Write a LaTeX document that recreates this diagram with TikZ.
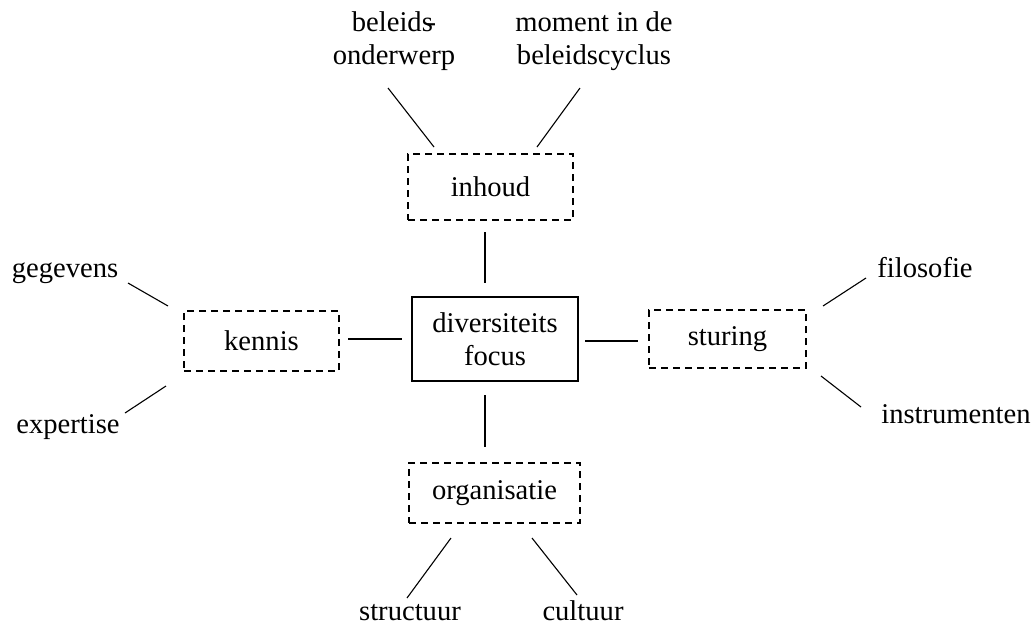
\documentclass[tikz,border=0pt]{standalone}
\usepackage{fontspec}
\setmainfont{Liberation Serif}
\begin{document}
\begin{tikzpicture}[x=1pt,y=-1pt,
  every node/.style={font=\fontsize{28.6}{33}\selectfont, inner sep=0pt, align=center},
  conn/.style={line width=1.1pt},
  dashbox/.style={draw, dash pattern=on 7pt off 5pt, line width=1.3pt},
  mainbox/.style={draw, line width=1.7pt}]
\useasboundingbox (0,0) rectangle (1034,630);
% boxes
\node[mainbox, minimum width=166pt, minimum height=84pt] (div) at (495,339) {diversiteits\\focus};
\node[dashbox, minimum width=165pt, minimum height=66pt] (inh) at (490.5,187) {inhoud};
\node[dashbox, minimum width=155pt, minimum height=60pt] (ken) at (261.5,341) {kennis};
\node[dashbox, minimum width=157pt, minimum height=58pt] (stu) at (727.5,339) {\raisebox{-3pt}{sturing}};
\node[dashbox, minimum width=171pt, minimum height=60pt] (org) at (494.5,493) {organisatie};
% labels
\node (bel) at (394,41) {beleids\kern-0.22em-\\onderwerp};
\node (mom) at (594,41) {moment in de\\beleidscyclus};
\node[anchor=base] (geg) at (65,277) {gegevens};
\node[anchor=base] (exp) at (68,433) {expertise};
\node[anchor=base] (fil) at (925,277) {filosofie};
\node[anchor=base] (ins) at (956,423) {instrumenten};
\node[anchor=base] (str) at (410,620) {structuur};
\node[anchor=base] (cul) at (583,620) {cultuur};
% connector end points
\coordinate (c1a) at (485,232); \coordinate (c1b) at (485,283);
\coordinate (c2a) at (485,395); \coordinate (c2b) at (485,447);
\coordinate (c3a) at (348,339); \coordinate (c3b) at (402,339);
\coordinate (c4a) at (585,341); \coordinate (c4b) at (638,341);
\coordinate (b1) at (388,88);  \coordinate (b2) at (434,147);
\coordinate (m1) at (580,88);  \coordinate (m2) at (537,147);
\coordinate (g1) at (128,283); \coordinate (g2) at (168,306);
\coordinate (e1) at (125,413); \coordinate (e2) at (166,386);
\coordinate (f1) at (866,278); \coordinate (f2) at (823,306);
\coordinate (i1) at (861,407); \coordinate (i2) at (821,376);
\coordinate (s1) at (407,598); \coordinate (s2) at (451,538);
\coordinate (k1) at (577,595); \coordinate (k2) at (532,538);
% connectors
\draw[conn] (c1a) -- (c1b);
\draw[conn] (c2a) -- (c2b);
\draw[conn] (c3a) -- (c3b);
\draw[conn] (c4a) -- (c4b);
\draw[conn] (b1) -- (b2);
\draw[conn] (m1) -- (m2);
\draw[conn] (g1) -- (g2);
\draw[conn] (e1) -- (e2);
\draw[conn] (f1) -- (f2);
\draw[conn] (i1) -- (i2);
\draw[conn] (s1) -- (s2);
\draw[conn] (k1) -- (k2);
\end{tikzpicture}
\end{document}
